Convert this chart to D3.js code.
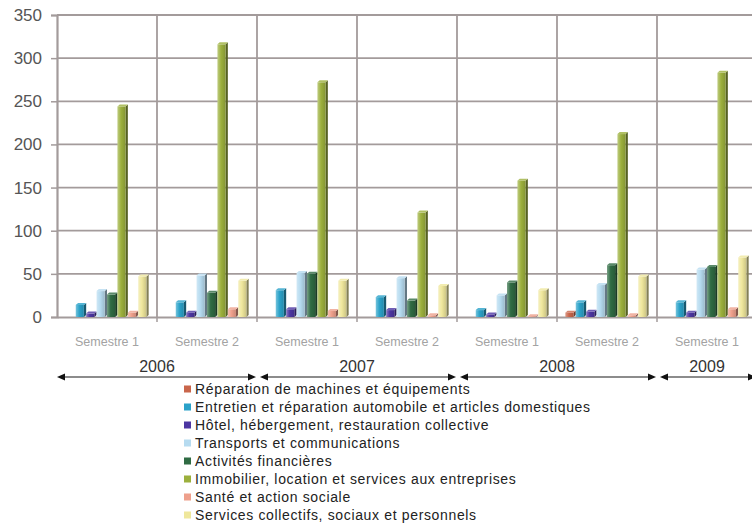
<!DOCTYPE html>
<html>
<head>
<meta charset="utf-8">
<script src="https://cdn.jsdelivr.net/npm/d3@7"></script>
<style>
  html, body { margin: 0; padding: 0; background: #fff; }
  svg { display: block; }
</style>
</head>
<body>
<svg id="chart" width="752" height="523"></svg>
<script>
// ---- data ----
const periods = ["2006-S1", "2006-S2", "2007-S1", "2007-S2", "2008-S1", "2008-S2", "2009-S1"];
const semesterLabels = ["Semestre 1", "Semestre 2", "Semestre 1", "Semestre 2", "Semestre 1", "Semestre 2", "Semestre 1"];
const years = ["2006", "2007", "2008", "2009"];
const yTicks = [0, 50, 100, 150, 200, 250, 300, 350];

const seriesNames = [
  "Réparation de machines et équipements",
  "Entretien et réparation automobile et articles domestiques",
  "Hôtel, hébergement, restauration collective",
  "Transports et communications",
  "Activités financières",
  "Immobilier, location et services aux entreprises",
  "Santé et action sociale",
  "Services collectifs, sociaux et personnels"
];
const reparation  = [0, 0, 0, 0, 0, 5, 0];
const entretien   = [14, 17, 31, 23, 8, 17, 17];
const hotel       = [4, 5, 9, 8, 3, 6, 5];
const transports  = [30, 48, 51, 45, 25, 37, 55];
const financieres = [26, 28, 50, 19, 40, 60, 58];
const immobilier  = [244, 316, 272, 121, 158, 212, 283];
const sante       = [5, 9, 7, 2, 1, 2, 9];
const services    = [47, 42, 42, 36, 31, 47, 69];
const seriesValues = [reparation, entretien, hotel, transports, financieres, immobilier, sante, services];
const seriesColors = ["#c9664b", "#2ba2c9", "#4c36a2", "#b6dbf0", "#2f6b43", "#9cb03d", "#eea08c", "#efe79c"];

// ---- layout ----
const svg = d3.select("#chart");
const mLeft = 57, mRight = 757, mTop = 15, mBottom = 317;

const x0 = d3.scaleBand().domain(periods).range([mLeft, mRight]).paddingInner(0).paddingOuter(0);
const x1 = d3.scaleBand().domain(d3.range(seriesNames.length)).range([0, x0.bandwidth()]).paddingInner(0).paddingOuter(0.8);
const y = d3.scaleLinear().domain([0, 350]).range([mBottom, mTop]);

const gridColor = "#a39b9b";

// gradients
const defs = svg.append("defs");
seriesColors.forEach((c, i) => {
  const g = defs.append("linearGradient").attr("id", "grad" + i).attr("x1", "0%").attr("x2", "100%");
  g.append("stop").attr("offset", "0%").attr("stop-color", d3.interpolateRgb(c, "#ffffff")(0.35));
  g.append("stop").attr("offset", "45%").attr("stop-color", c);
  g.append("stop").attr("offset", "100%").attr("stop-color", d3.interpolateRgb(c, "#000000")(0.15));
});

// horizontal gridlines
svg.append("g").selectAll("line").data(yTicks.filter(d => d > 0)).join("line")
  .attr("x1", mLeft).attr("x2", mRight)
  .attr("y1", d => y(d)).attr("y2", d => y(d))
  .attr("stroke", gridColor).attr("stroke-width", 1.8);

// vertical gridlines at category boundaries
svg.append("g").selectAll("line").data(periods.slice(1)).join("line")
  .attr("x1", d => x0(d)).attr("x2", d => x0(d))
  .attr("y1", mTop).attr("y2", mBottom)
  .attr("stroke", gridColor).attr("stroke-width", 1.8);

// y axis
const yAxis = svg.append("g").attr("transform", `translate(${mLeft},0)`)
  .call(d3.axisLeft(y).tickValues(yTicks).tickSize(6).tickPadding(9));
yAxis.select(".domain").attr("stroke", gridColor).attr("stroke-width", 2.2);
yAxis.selectAll(".tick line").attr("stroke", gridColor).attr("stroke-width", 1.5);
yAxis.selectAll(".tick text").attr("font-family", "Liberation Sans, Arial, sans-serif")
  .attr("font-size", 17).attr("fill", "#555");

// x axis
const xAxis = svg.append("g").attr("transform", `translate(0,${mBottom})`)
  .call(d3.axisBottom(x0).tickValues([]).tickSizeOuter(0));
xAxis.select(".domain").attr("stroke", gridColor).attr("stroke-width", 2.2);
svg.append("g").selectAll("line").data(periods.slice(1)).join("line")
  .attr("x1", d => x0(d)).attr("x2", d => x0(d))
  .attr("y1", mBottom).attr("y2", mBottom + 5)
  .attr("stroke", gridColor).attr("stroke-width", 1.5);

// semester labels
svg.append("g").selectAll("text").data(periods).join("text")
  .attr("x", d => x0(d) + x0.bandwidth() / 2)
  .attr("y", 346)
  .attr("text-anchor", "middle")
  .attr("font-family", "Liberation Sans, Arial, sans-serif")
  .attr("font-size", 12.5)
  .attr("fill", "#a3a3a3")
  .text((d, i) => semesterLabels[i]);

// bars (pseudo 3D)
const bw = x1.bandwidth();
const frontW = bw * 0.78, depth = bw * 0.22;
const barData = [];
seriesValues.forEach((vals, s) => {
  vals.forEach((v, p) => barData.push({ s, p, v }));
});
const bars = svg.append("g").selectAll("g").data(barData.filter(d => d.v > 0)).join("g")
  .attr("transform", d => `translate(${x0(periods[d.p]) + x1(d.s)},0)`);
bars.append("polygon")
  .attr("points", d => {
    const yt = y(d.v), yb = y(0);
    return `${frontW},${yt} ${frontW + depth},${yt - 2} ${frontW + depth},${yb - 2} ${frontW},${yb}`;
  })
  .attr("fill", d => d3.interpolateRgb(seriesColors[d.s], "#000")(0.45));
bars.append("rect")
  .attr("x", 0).attr("width", frontW)
  .attr("y", d => y(d.v)).attr("height", d => y(0) - y(d.v))
  .attr("fill", d => `url(#grad${d.s})`);
bars.append("polygon")
  .attr("points", d => {
    const yt = y(d.v);
    return `0,${yt} ${depth},${yt - 2} ${frontW + depth},${yt - 2} ${frontW},${yt}`;
  })
  .attr("fill", d => d3.interpolateRgb(seriesColors[d.s], "#fff")(0.2));

// year arrows
const yearGroups = years.map(yr => {
  const ps = periods.filter(p => p.startsWith(yr));
  return { yr, start: x0(ps[0]), end: x0(ps[ps.length - 1]) + x0.bandwidth() };
});
const ay = 377;
const ag = svg.append("g");
yearGroups.forEach((g, i) => {
  const a = g.start + (i === 0 ? 0 : 3);
  const b = g.end - 1;
  ag.append("line").attr("x1", a + 6).attr("x2", b - 6).attr("y1", ay).attr("y2", ay)
    .attr("stroke", "#666").attr("stroke-width", 1.5);
  ag.append("path").attr("d", `M${a},${ay} L${a + 8},${ay - 3.5} L${a + 8},${ay + 3.5} Z`).attr("fill", "#111");
  ag.append("path").attr("d", `M${b},${ay} L${b - 8},${ay - 3.5} L${b - 8},${ay + 3.5} Z`).attr("fill", "#111");
  ag.append("text").attr("x", (g.start + g.end) / 2).attr("y", 372)
    .attr("text-anchor", "middle")
    .attr("font-family", "Liberation Sans, Arial, sans-serif")
    .attr("font-size", 16).attr("fill", "#333").text(g.yr);
});

// legend
const lg = svg.append("g");
seriesNames.forEach((name, i) => {
  const cy = 389 + i * 18;
  lg.append("rect").attr("x", 184).attr("y", cy - 3.5).attr("width", 7).attr("height", 7)
    .attr("fill", seriesColors[i]);
  lg.append("text").attr("x", 195).attr("y", cy + 5)
    .attr("font-family", "Liberation Sans, Arial, sans-serif")
    .attr("font-size", 14).attr("letter-spacing", 0.65)
    .attr("fill", "#222").text(name);
});
</script>
</body>
</html>
